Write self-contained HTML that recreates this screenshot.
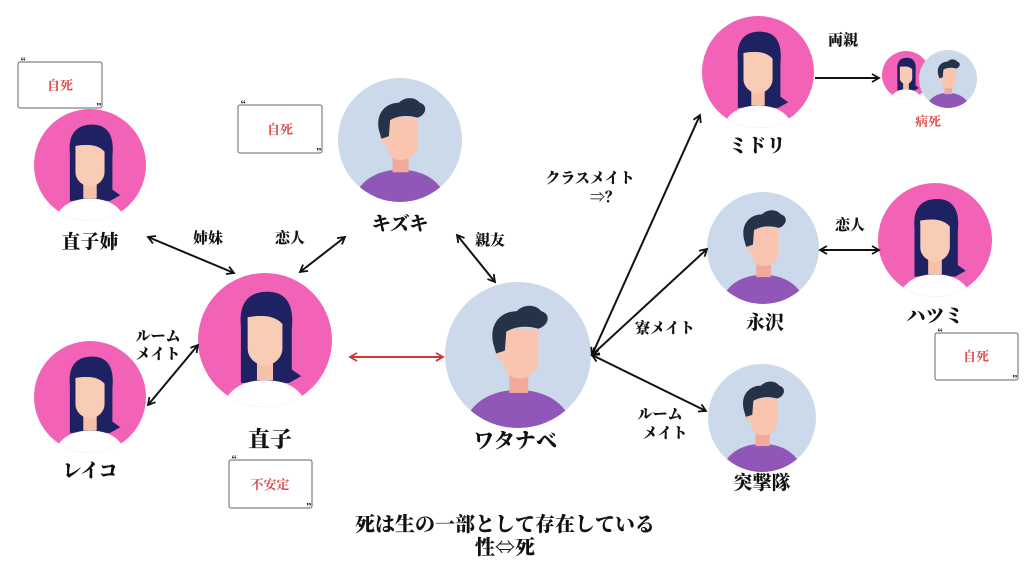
<!DOCTYPE html>
<html><head><meta charset="utf-8"><style>
html,body{margin:0;padding:0;background:#fff;width:1024px;height:576px;overflow:hidden}
svg{display:block}
text{font-family:"Noto Serif CJK SC","Liberation Serif","Noto Sans CJK JP",serif;font-weight:900;fill:#111}
.r{fill:#d94a4a;font-weight:700}
</style></head><body>
<svg width="1024" height="576" viewBox="0 0 1024 576" xmlns="http://www.w3.org/2000/svg">
<defs>
<clipPath id="cc"><circle cx="0" cy="0" r="50"/></clipPath>
<g id="fem">
 <circle r="50" fill="#f263b8"/>
 <g clip-path="url(#cc)">
  <path d="M-18,-10 C-20,-32 -8,-36 2,-36 C16,-36 22,-26 20,-8 L20,22 L27,27 L18,32 L-18,32 Z" fill="#1f2262"/>
  <path d="M-34,60 C-32,38 -18,30 0,30 C18,30 32,38 34,60 Z" fill="#fff"/>
  <rect x="-6" y="12" width="12" height="18" fill="#f5c2a8"/>
  <path d="M-13,-18 L13,-18 L13,6 C13,14 6,19 0,19 C-6,19 -13,14 -13,6 Z" fill="#f9cdb5"/>
  <path d="M-15,-12 C-15,-30 0,-34 7,-32 C17,-30 20,-18 17,-6 C12,-16 4,-20 -13,-17 Z" fill="#1f2262"/>
  <path d="M-15,-14 L-13,-14 L-13,16 L-17,16 Z" fill="#1f2262"/>
 </g>
</g>
<g id="mal">
 <circle r="50" fill="#cbd9ea"/>
 <g clip-path="url(#cc)">
  <path d="M-40,60 C-38,34 -20,24 0,24 C20,24 38,34 40,60 Z" fill="#9057b8"/>
  <rect x="-6" y="10" width="13" height="16" fill="#f2a89a"/>
  <path d="M-10,-18 L14,-18 L14,4 C14,12 7,16 1,16 C-6,16 -10,12 -10,4 Z" fill="#f9c4b0"/>
  <circle cx="-11" cy="0" r="4" fill="#f9c4b0"/>
  <path d="M-17,-8 C-20,-22 -11,-30 -1,-30 C4,-35 12,-35 16,-30 C23,-28 21,-20 14,-18 C7,-20 -1,-20 -8,-16 L-9,-3 L-15,-1 Z" fill="#263248"/>
 </g>
</g>
<marker id="ah" markerWidth="10" markerHeight="10" refX="8" refY="5" orient="auto-start-reverse" markerUnits="userSpaceOnUse"><path d="M1,1 L8,5 L1,9" fill="none" stroke="#111" stroke-width="1.8"/></marker>
<marker id="ahr" markerWidth="10" markerHeight="10" refX="8" refY="5" orient="auto-start-reverse" markerUnits="userSpaceOnUse"><path d="M1,1 L8,5 L1,9" fill="none" stroke="#c83a3a" stroke-width="1.8"/></marker>
</defs>

<g fill="none" stroke="#666" stroke-width="1">
<rect x="18" y="62" width="84" height="46" rx="2"/>
<rect x="238" y="105" width="84" height="48" rx="2"/>
<rect x="229" y="460" width="83" height="48" rx="2"/>
<rect x="935" y="333" width="83" height="47" rx="2"/>
</g>
<g font-size="10"><text x="16" y="66">“</text><text x="96" y="112">”</text><text x="236" y="109">“</text><text x="316" y="157">”</text><text x="227" y="464">“</text><text x="306" y="512">”</text><text x="933" y="337">“</text><text x="1012" y="384">”</text></g>
<g font-size="13" text-anchor="middle">
<text class="r" x="60" y="90">自死</text>
<text class="r" x="280" y="134">自死</text>
<text class="r" x="270" y="489">不安定</text>
<text class="r" x="976" y="361">自死</text>
<text class="r" x="928" y="126">病死</text>
</g>

<use href="#fem" transform="translate(90,165) scale(1.12)"/>
<use href="#fem" transform="translate(90,397) scale(1.12)"/>
<use href="#fem" transform="translate(265,340) scale(1.34)"/>
<use href="#mal" transform="translate(400,140) scale(1.24)"/>
<use href="#mal" transform="translate(518,355) scale(1.46)"/>
<use href="#fem" transform="translate(758,72) scale(1.12)"/>
<use href="#fem" transform="translate(906,75) scale(0.48)"/>
<use href="#mal" transform="translate(948,79) scale(0.58)"/>
<use href="#mal" transform="translate(763,248) scale(1.12)"/>
<use href="#fem" transform="translate(935,240) scale(1.14)"/>
<use href="#mal" transform="translate(762,418) scale(1.08)"/>

<g stroke="#111" stroke-width="2" fill="none">
<line x1="148" y1="237" x2="234" y2="273" marker-start="url(#ah)" marker-end="url(#ah)"/>
<line x1="345" y1="237" x2="300" y2="272" marker-start="url(#ah)" marker-end="url(#ah)"/>
<line x1="457" y1="235" x2="495" y2="282" marker-start="url(#ah)" marker-end="url(#ah)"/>
<line x1="148" y1="405" x2="198" y2="345" marker-start="url(#ah)" marker-end="url(#ah)"/>
<line x1="592" y1="355" x2="700" y2="115" marker-start="url(#ah)" marker-end="url(#ah)"/>
<line x1="592" y1="355" x2="707" y2="249" marker-start="url(#ah)" marker-end="url(#ah)"/>
<line x1="592" y1="355" x2="706" y2="411" marker-start="url(#ah)" marker-end="url(#ah)"/>
<line x1="815" y1="78" x2="879" y2="78" marker-end="url(#ah)"/>
<line x1="820" y1="250" x2="879" y2="250" marker-start="url(#ah)" marker-end="url(#ah)"/>
</g>
<line x1="350" y1="357" x2="443" y2="357" stroke="#c83a3a" stroke-width="2" marker-start="url(#ahr)" marker-end="url(#ahr)"/>

<g font-size="19" text-anchor="middle">
<text x="90" y="248">直子姉</text>
<text x="90" y="477">レイコ</text>
<text x="270" y="447" font-size="22">直子</text>
<text x="400" y="230">キズキ</text>
<text x="515" y="448" font-size="21">ワタナベ</text>
<text x="757" y="152">ミドリ</text>
<text x="765" y="329">永沢</text>
<text x="935" y="322">ハツミ</text>
<text x="762" y="489">突撃隊</text>
</g>
<g font-size="15" text-anchor="middle">
<text x="208" y="243">姉妹</text>
<text x="290" y="243">恋人</text>
<text x="490" y="245">親友</text>
<text x="850" y="230">恋人</text>
<text x="843" y="45">両親</text>
<text x="158" y="341">ルーム</text>
<text x="158" y="359">メイト</text>
<text x="590" y="183">クラスメイト</text>
<text x="605" y="202">⇒？</text>
<text x="665" y="333">寮メイト</text>
<text x="660" y="419">ルーム</text>
<text x="665" y="438">メイト</text>
</g>
<g font-size="20" text-anchor="middle">
<text x="505" y="531">死は生の一部として存在している</text>
<text x="505" y="554">性⇔死</text>
</g>
</svg>
</body></html>
